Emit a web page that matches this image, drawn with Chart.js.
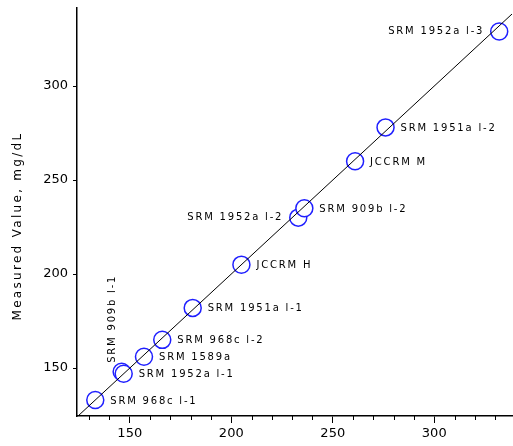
<!DOCTYPE html>
<html lang="en">
<head>
<meta charset="UTF-8">
<title>Measured vs Certified</title>
<script src="https://cdn.jsdelivr.net/npm/chart.js@4.4.0/dist/chart.umd.js"></script>
<style>body { margin: 0; background: #fff; }</style>
</head>
<body>
<canvas id="chart" width="513" height="446"></canvas>
<script>
// Reference materials, certified value (x) and measured value (y), mg/dL
const materials = ['SRM 968c l-1', 'SRM 909b l-1', 'SRM 1952a l-1', 'SRM 1589a', 'SRM 968c l-2',
    'SRM 1951a l-1', 'JCCRM H', 'SRM 1952a l-2', 'SRM 909b l-2', 'JCCRM M', 'SRM 1951a l-2', 'SRM 1952a l-3'];
const certified = [133, 146, 147, 157, 166, 181, 205, 233, 236, 261, 276, 332];
const measured = [133, 148, 147, 156, 165, 182, 205, 230, 235, 260, 278, 329];
// identity line y = x
const identity = [124, 340];
const xTicks = [150, 200, 250, 300];
const xMinorTicks = [130, 140, 160, 170, 180, 190, 210, 220, 230, 240, 260, 270, 280, 290, 310, 320, 330];
const yTicks = [150, 200, 250, 300];
const yTitle = 'Measured Value, mg/dL';

// where each label sits relative to its point (default: right)
const labelSide = { 1: 'up', 7: 'left', 11: 'left' };

const extras = {
    id: 'extras',
    afterDraw(chart) {
        const ctx = chart.ctx;
        const x = chart.scales.x;
        const y = chart.scales.y;
        ctx.save();
        // minor ticks on the x axis
        ctx.strokeStyle = '#000';
        ctx.lineWidth = 1;
        ctx.beginPath();
        xMinorTicks.forEach(v => {
            const px = Math.round(x.getPixelForValue(v)) + 0.5;
            ctx.moveTo(px, x.top);
            ctx.lineTo(px, x.top + 4);
        });
        ctx.stroke();

        // point labels
        const meta = chart.getDatasetMeta(1);
        ctx.fillStyle = '#000';
        ctx.font = '10px "DejaVu Sans"';
        ctx.letterSpacing = '1.8px';
        ctx.textBaseline = 'middle';
        meta.data.forEach((pt, i) => {
            const side = labelSide[i] || 'right';
            if (side === 'up') {
                ctx.save();
                ctx.translate(pt.x - 9, pt.y - 9);
                ctx.rotate(-Math.PI / 2);
                ctx.textAlign = 'left';
                ctx.fillText(materials[i], 0, 0);
                ctx.restore();
            } else if (side === 'left') {
                ctx.textAlign = 'right';
                ctx.fillText(materials[i], pt.x - 15, pt.y);
            } else {
                ctx.textAlign = 'left';
                ctx.fillText(materials[i], pt.x + 15, pt.y + 1);
            }
        });

        // y axis title, drawn by hand to get the wide letter spacing
        ctx.translate(18, (y.top + y.bottom) / 2 + 14);
        ctx.rotate(-Math.PI / 2);
        ctx.font = '12px "DejaVu Sans"';
        ctx.letterSpacing = '2.3px';
        ctx.textAlign = 'center';
        ctx.fillText(yTitle, 0, 0);
        ctx.restore();
    }
};

const tickFont = { family: 'DejaVu Sans', size: 13 };

new Chart(document.getElementById('chart'), {
    type: 'scatter',
    data: {
        datasets: [{
            type: 'line',
            data: identity.map(v => ({ x: v, y: v })),
            borderColor: '#000',
            borderWidth: 1,
            pointRadius: 0
        }, {
            data: certified.map((c, i) => ({ x: c, y: measured[i] })),
            pointRadius: 8.5,
            pointBorderColor: '#1f1fff',
            pointBackgroundColor: '#fff',
            pointBorderWidth: 1.5
        }]
    },
    options: {
        responsive: false,
        animation: false,
        devicePixelRatio: 1,
        layout: { autoPadding: false, padding: { top: 8, right: 1 } },
        plugins: {
            legend: { display: false },
            tooltip: { enabled: false }
        },
        scales: {
            x: {
                type: 'linear',
                min: 124,
                max: 338.3,
                afterFit: scale => { scale.height = 30; scale.paddingLeft = 0; scale.paddingRight = 0; },
                afterBuildTicks: scale => { scale.ticks = xTicks.map(v => ({ value: v })); },
                grid: { drawOnChartArea: false, color: '#000', tickLength: 7 },
                border: { color: '#000', width: 1.5 },
                ticks: {
                    autoSkip: false,
                    maxRotation: 0,
                    padding: 3,
                    color: '#000',
                    font: tickFont
                }
            },
            y: {
                type: 'linear',
                min: 124.5,
                max: 341.5,
                afterFit: scale => { scale.width = 77; scale.paddingTop = 0; scale.paddingBottom = 0; },
                afterBuildTicks: scale => { scale.ticks = yTicks.map(v => ({ value: v })); },
                grid: { drawOnChartArea: false, color: '#000', tickLength: 4 },
                border: { color: '#000', width: 1.5 },
                ticks: {
                    padding: 5,
                    color: '#000',
                    font: tickFont
                }
            }
        }
    },
    plugins: [extras]
});
</script>
</body>
</html>
